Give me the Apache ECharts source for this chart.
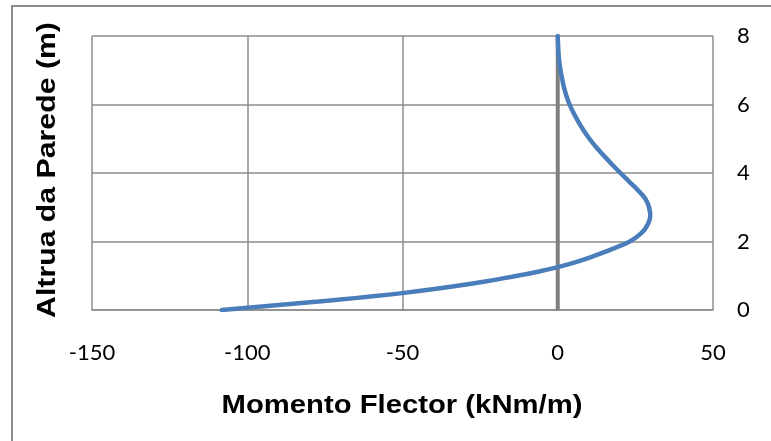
<!DOCTYPE html>
<html>
<head>
<meta charset="utf-8">
<script src="https://cdn.jsdelivr.net/npm/echarts@6/dist/echarts.min.js"></script>
<style>
  html, body { margin: 0; padding: 0; background: #fff; }
  #chart { width: 771px; height: 441px; }
</style>
</head>
<body>
<div id="chart"></div>
<script>
// Bending moment along the wall height (m -> kNm/m)
const wallHeight = [0, 0.25, 0.5, 0.75, 1.0, 1.125, 1.25, 1.375, 1.5, 1.625, 1.75, 2.0, 2.25, 2.5, 2.75, 3.0, 3.25, 3.5, 3.75, 4.0, 4.25, 4.5, 4.75, 5.0, 5.25, 5.5, 5.75, 6.0, 6.25, 6.5, 6.75, 7.0, 7.25, 7.5, 7.75, 8.0];
const bendingMoment = [-108.2, -77.0, -49.5, -29.0, -13.0, -6.0, 0.0, 5.0, 9.3, 13.1, 16.7, 23.2, 27.0, 29.0, 29.8, 29.4, 28.2, 25.8, 23.0, 20.2, 17.5, 14.9, 12.4, 10.2, 8.3, 6.6, 5.1, 3.8, 2.8, 2.0, 1.4, 0.9, 0.5, 0.25, 0.1, 0];

// Reference line at zero moment
const zeroLineX = [0, 0];
const zeroLineY = [0, 8];

const xTicks = { min: -150, max: 50, interval: 50 };
const yTicks = { min: 0, max: 8, interval: 2 };

const xTitle = 'Momento Flector (kNm/m)';
const yTitle = 'Altrua da Parede (m)';

const chart = echarts.init(document.getElementById('chart'), null, { renderer: 'canvas' });

const gridColor = '#8c8c8c';
const labelFont = 'Lato, "Open Sans", sans-serif';
const titleFont = 'bold 25px "Liberation Sans", Arial, sans-serif';

chart.setOption({
  animation: false,
  backgroundColor: '#ffffff',
  grid: { left: 92, right: 58, top: 36, bottom: 131 },
  graphic: [
    {
      type: 'rect',
      shape: { x: 12, y: 6, width: 800, height: 500 },
      style: { fill: 'none', stroke: '#8c8c8c', lineWidth: 2 },
      silent: true,
      z: -10
    },
    {
      type: 'text',
      x: 402, y: 406,
      scaleX: 1.17,
      style: {
        text: xTitle,
        font: titleFont,
        fill: '#000',
        textAlign: 'center',
        textVerticalAlign: 'middle'
      }
    },
    {
      type: 'text',
      x: 48, y: 170,
      rotation: Math.PI / 2,
      scaleX: 1.21,
      style: {
        text: yTitle,
        font: titleFont,
        fill: '#000',
        textAlign: 'center',
        textVerticalAlign: 'middle'
      }
    }
  ],
  xAxis: {
    type: 'value',
    min: xTicks.min, max: xTicks.max, interval: xTicks.interval,
    axisLine: { show: true, onZero: false, lineStyle: { color: gridColor, width: 1.5 } },
    axisTick: { show: false },
    axisLabel: { margin: 32, color: '#000', fontSize: 22, fontFamily: labelFont },
    splitLine: { show: true, lineStyle: { color: gridColor, width: 1.5 } }
  },
  yAxis: {
    type: 'value',
    position: 'right',
    min: yTicks.min, max: yTicks.max, interval: yTicks.interval,
    axisLine: { show: false },
    axisTick: { show: false },
    axisLabel: { margin: 24, color: '#000', fontSize: 22, fontFamily: labelFont, align: 'left' },
    splitLine: { show: true, lineStyle: { color: gridColor, width: 1.5 } }
  },
  series: [
    {
      type: 'line',
      data: zeroLineX.map((x, i) => [x, zeroLineY[i]]),
      symbol: 'none',
      lineStyle: { color: '#808080', width: 4 },
      z: 1,
      silent: true
    },
    {
      type: 'line',
      data: bendingMoment.map((x, i) => [x, wallHeight[i]]),
      symbol: 'none',
      smooth: 0.4,
      lineStyle: { color: '#4a7ebb', width: 4.5, cap: 'round' },
      z: 2
    }
  ]
});
</script>
</body>
</html>
